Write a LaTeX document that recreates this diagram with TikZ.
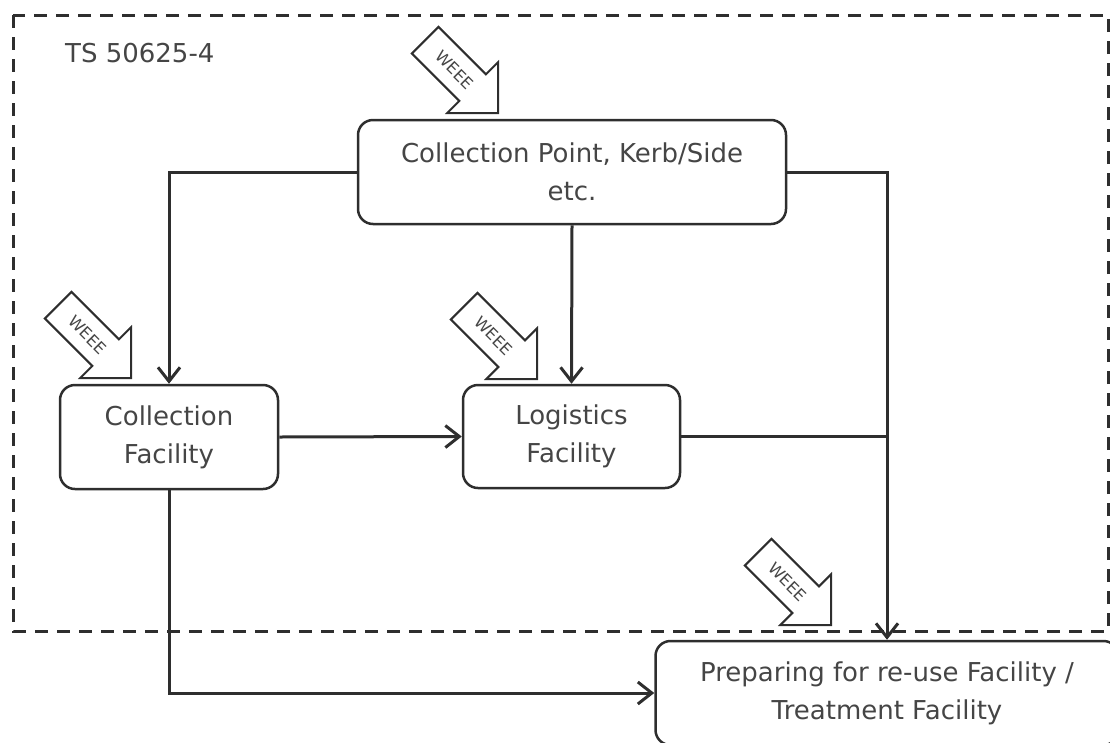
\documentclass[tikz,border=0pt]{standalone}
\usepackage{fontspec}
\setmainfont{DejaVu Sans}
\usepackage{tikz}
\usetikzlibrary{arrows.meta,shapes.arrows}
\definecolor{linegray}{HTML}{2E2E2E}
\definecolor{textgray}{HTML}{454545}

\begin{document}
\begin{tikzpicture}
[
x=1pt, y=-1pt,
facility/.style={draw=linegray, line width=2.5pt, rounded corners=15pt, text=textgray, align=center, inner sep=0pt, font=\fontsize{26}{38}\selectfont},
flow/.style={draw=linegray, line width=3pt, -{Straight Barb[length=14pt,width=22pt]}},
link/.style={draw=linegray, line width=3pt},
weee/.style={single arrow, draw=linegray, line width=2pt, text=textgray, single arrow tip angle=90, single arrow head extend=17pt, minimum height=103pt, inner ysep=12pt, inner xsep=5pt, font=\fontsize{16}{16}\selectfont, rotate=-45, anchor=tip}
]
\useasboundingbox (0,0) rectangle (1110,742);
\clip (0,0) rectangle (1110,742);

% boundary of the standard
\draw[draw=linegray, line width=3pt, dash pattern=on 13pt off 9pt] (13,15) rectangle (1108,631);
\node[text=textgray, font=\fontsize{26}{30}\selectfont, inner sep=0pt, anchor=base west] (ts) at (65,62) {TS 50625-4};

% facilities
\node[facility, minimum width=428pt, minimum height=104pt] (cp) at (572,172) {Collection Point, Kerb/Side\\etc.};
\node[facility, minimum width=218pt, minimum height=104pt] (cf) at (169,437) {Collection\\Facility};
\node[facility, minimum width=217pt, minimum height=103pt] (lf) at (571.5,436.5) {Logistics\\Facility};
\node[facility, minimum width=463pt, minimum height=104pt] (pr) at (887,693) {Preparing for re-use Facility /\\Treatment Facility};

% incoming WEEE
\node[weee] (wcp) at (499,114) {WEEE};
\node[weee] (wcf) at (132,379) {WEEE};
\node[weee] (wlf) at (538,380) {WEEE};
\node[weee] (wpr) at (832,626) {WEEE};

% flows
\draw[flow] (cp.west) -| (cf.north);
\draw[flow] (cp.south) -- (lf.north);
\draw[flow] (cp.east) -| (pr.north);
\draw[link] (lf.east) -- (lf.east -| pr.north);
\draw[flow] (cf.east) -- (lf.west);
\draw[flow] (cf.south) |- (pr.west);
\end{tikzpicture}
\end{document}
